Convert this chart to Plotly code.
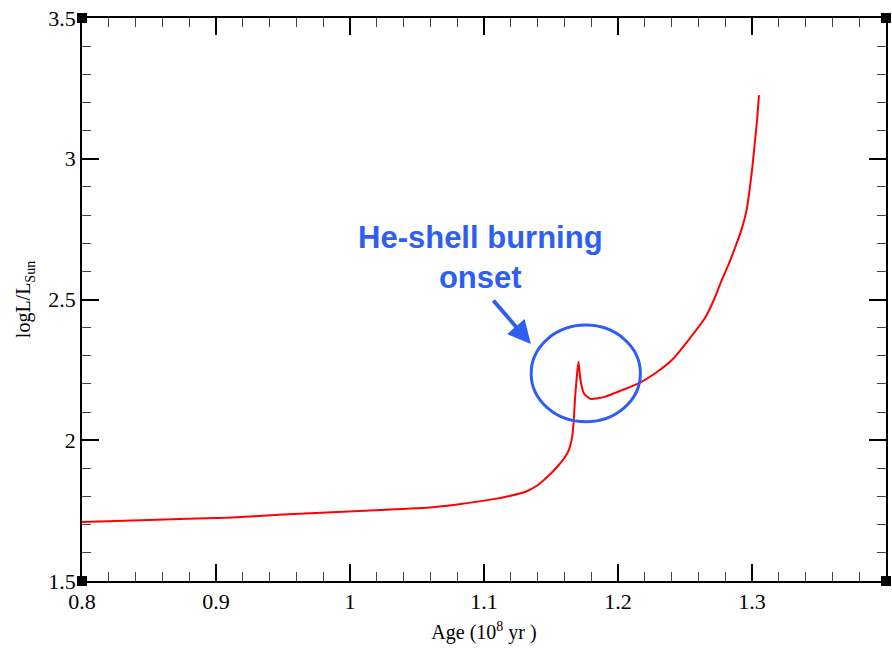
import plotly.graph_objects as go

# Data
age = [0.800, 0.850, 0.908, 0.950, 1.007, 1.057, 1.080, 1.106, 1.119, 1.131,
       1.140, 1.1447, 1.150, 1.1558, 1.160, 1.1633, 1.1658, 1.1670, 1.1680,
       1.1695, 1.1705, 1.1720, 1.1745, 1.1794, 1.1850, 1.1906, 1.2030, 1.2154,
       1.2278, 1.2402, 1.2526, 1.2650, 1.2717, 1.2774, 1.2824, 1.2886, 1.2923,
       1.2960, 1.2985, 1.3003, 1.3023, 1.3040, 1.3052]
logL = [1.710, 1.717, 1.725, 1.736, 1.749, 1.760, 1.772, 1.790, 1.802, 1.817,
        1.840, 1.859, 1.882, 1.912, 1.937, 1.965, 2.013, 2.072, 2.155,
        2.238, 2.279, 2.214, 2.167, 2.147, 2.149, 2.155, 2.178, 2.202,
        2.238, 2.285, 2.356, 2.435, 2.500, 2.569, 2.623, 2.700, 2.750,
        2.818, 2.901, 2.972, 3.067, 3.149, 3.226]

x_ticks = [0.8, 0.9, 1.0, 1.1, 1.2, 1.3]
y_ticks = [1.5, 2.0, 2.5, 3.0, 3.5]

annot_text = "He-shell burning<br>onset"
blue = "#2f5ff2"

fig = go.Figure()
fig.add_trace(go.Scatter(x=age, y=logL, mode="lines",
                         line=dict(color="#ff0000", width=2, shape="spline",
                                   smoothing=0.5),
                         showlegend=False))

serif = "Liberation Serif, Times New Roman, serif"

fig.update_layout(
    width=892, height=648,
    margin=dict(l=82, r=4, t=18, b=67),
    paper_bgcolor="white", plot_bgcolor="white",
    font=dict(family=serif, color="black"),
    xaxis=dict(range=[0.8, 1.4], tickmode="array", tickvals=x_ticks,
               ticks="inside", ticklen=17, tickwidth=1.5, tickcolor="black",
               showline=True, linecolor="black", linewidth=1.5, mirror="allticks",
               showgrid=False, zeroline=False,
               tickfont=dict(family=serif, size=22, color="black"),
               minor=dict(tickmode="linear", tick0=0.8, dtick=0.02, ticks="inside",
                          ticklen=9, tickwidth=1.2, tickcolor="#444", showgrid=False),
               title=dict(text="Age (10<sup>8</sup> yr )",
                          font=dict(family=serif, size=20, color="black"),
                          standoff=12)),
    yaxis=dict(range=[1.5, 3.5], tickmode="array", tickvals=y_ticks,
               ticks="inside", ticklen=17, tickwidth=1.5, tickcolor="black",
               showline=True, linecolor="black", linewidth=1.5, mirror="allticks",
               showgrid=False, zeroline=False,
               tickfont=dict(family=serif, size=22, color="black"),
               minor=dict(tickmode="linear", tick0=1.5, dtick=0.1, ticks="inside",
                          ticklen=9, tickwidth=1.2, tickcolor="#444", showgrid=False),
               title=dict(text="logL/L<sub>Sun</sub>",
                          font=dict(family=serif, size=20, color="black"),
                          standoff=12)),
)

# Ellipse around the onset
fig.add_shape(type="circle", xref="x", yref="y",
              x0=1.1352, x1=1.2167, y0=2.066, y1=2.409,
              line=dict(color=blue, width=3))

# Corner squares (Grace style)
for cx in (0, 1):
    for cy in (0, 1):
        fig.add_shape(type="rect", xref="paper", yref="paper",
                      xsizemode="pixel", ysizemode="pixel",
                      xanchor=cx, yanchor=cy, x0=-5, x1=5, y0=-5, y1=5,
                      fillcolor="black", line=dict(width=0))

# Annotation text
fig.add_annotation(x=1.0976, y=2.649, xref="x", yref="y", text=annot_text,
                   showarrow=False, align="center",
                   font=dict(family="Liberation Sans, Arial, sans-serif",
                             size=31, color=blue, weight="bold"))
# Arrow
fig.add_annotation(x=1.135, y=2.342, ax=1.1060, ay=2.502,
                   xref="x", yref="y", axref="x", ayref="y", text="",
                   showarrow=True, arrowhead=2, arrowsize=1.15, arrowwidth=4,
                   arrowcolor=blue)

fig.write_html("out.html")
